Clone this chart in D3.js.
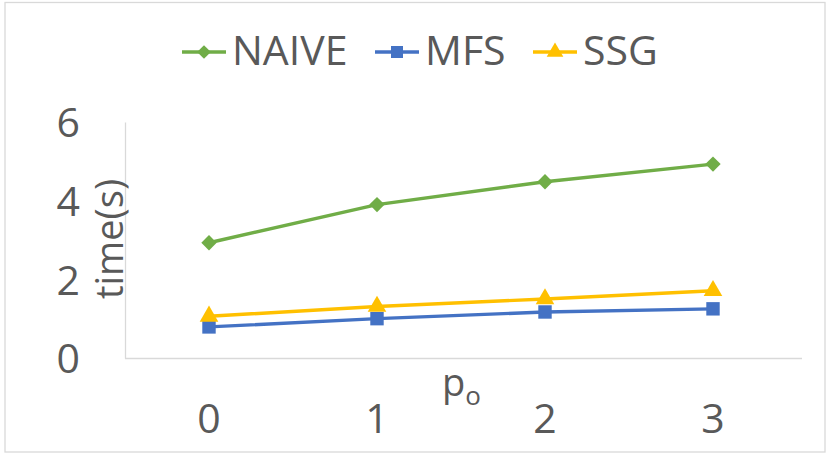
<!DOCTYPE html>
<html lang="en">
<head>
<meta charset="UTF-8">
<script src="https://d3js.org/d3.v7.min.js"></script>
<title>time vs p_o</title>
<style>
  body { margin: 0; background: #fff; }
  text { font-family: "Open Sans", "Liberation Sans", sans-serif; fill: #595959; }
</style>
</head>
<body>
<script>
// chart data
const categories = ["0", "1", "2", "3"];
const naive = [2.93, 3.90, 4.48, 4.93];
const mfs = [0.79, 1.00, 1.17, 1.25];
const ssg = [1.06, 1.31, 1.50, 1.71];
const yTicks = [0, 2, 4, 6];

const series = [
    { name: "NAIVE", values: naive, color: "#70AD47", symbol: d3.symbolDiamond2, size: 150 },
    { name: "MFS", values: mfs, color: "#4472C4", symbol: d3.symbolSquare, size: 180 },
    { name: "SSG", values: ssg, color: "#FFC000", symbol: d3.symbolTriangle, size: 150 }
];

const width = 830, height = 458;
const plot = { left: 125, right: 797, top: 122, bottom: 358 };

const svg = d3.select("body").append("svg")
    .attr("width", width)
    .attr("height", height);

// chart border
svg.append("rect")
    .attr("x", 5).attr("y", 2.5)
    .attr("width", 820).attr("height", 449.5)
    .attr("fill", "#fff")
    .attr("stroke", "#D9D9D9")
    .attr("stroke-width", 1.3);

const x = d3.scaleBand()
    .domain(categories)
    .range([plot.left, plot.right]);

const y = d3.scaleLinear()
    .domain([0, 6])
    .range([plot.bottom, plot.top]);

// y axis
const yAxis = svg.append("g")
    .attr("transform", "translate(" + plot.left + ",0)")
    .call(d3.axisLeft(y).tickValues(yTicks).tickFormat(d3.format("d")).tickSize(0).tickPadding(45));
yAxis.select(".domain").attr("stroke", "#D9D9D9").attr("stroke-width", 1.3);
yAxis.selectAll("text")
    .attr("font-size", 41)
    .attr("dy", "0.36em")
    .style("font-family", "'Open Sans', sans-serif")
    .attr("fill", "#595959");

// x axis
const xAxis = svg.append("g")
    .attr("transform", "translate(0," + plot.bottom + ")")
    .call(d3.axisBottom(x).tickSize(0).tickPadding(46));
xAxis.select(".domain").attr("stroke", "#D9D9D9").attr("stroke-width", 1.3)
    .attr("d", "M" + plot.left + ",0.5H" + (plot.right + 5));
xAxis.selectAll("text")
    .attr("font-size", 41)
    .style("font-family", "'Open Sans', sans-serif")
    .attr("fill", "#595959");

// axis titles
svg.append("text")
    .attr("transform", "translate(123,239) rotate(-90)")
    .attr("text-anchor", "middle")
    .attr("font-size", 38)
    .text("time(s)");

const xTitle = svg.append("text")
    .attr("x", 442).attr("y", 396)
    .attr("font-size", 38);
xTitle.append("tspan").text("p");
xTitle.append("tspan").attr("font-size", 26).attr("dy", 9).text("o");

// lines and markers
const line = d3.line()
    .x((d, i) => x(categories[i]) + x.bandwidth() / 2)
    .y(d => y(d));

series.forEach(s => {
    svg.append("path")
        .datum(s.values)
        .attr("fill", "none")
        .attr("stroke", s.color)
        .attr("stroke-width", 3.4)
        .attr("stroke-linejoin", "round")
        .attr("d", line);

    svg.selectAll(null)
        .data(s.values)
        .join("path")
        .attr("transform", (d, i) => "translate(" + (x(categories[i]) + x.bandwidth() / 2) + "," + y(d) + ")")
        .attr("d", d3.symbol().type(s.symbol).size(s.size))
        .attr("fill", s.color);
});

// legend
const legendX = [182, 375, 533];
const legend = svg.append("g");
series.forEach((s, i) => {
    const g = legend.append("g").attr("transform", "translate(" + legendX[i] + ",52)");
    g.append("line")
        .attr("x1", 0).attr("x2", 44)
        .attr("stroke", s.color).attr("stroke-width", 3.4);
    g.append("path")
        .attr("transform", "translate(22,0)")
        .attr("d", d3.symbol().type(s.symbol).size(s.size * 0.8))
        .attr("fill", s.color);
    g.append("text")
        .attr("x", 50).attr("y", 13)
        .attr("font-size", 41)
        .text(s.name);
});
</script>
</body>
</html>
